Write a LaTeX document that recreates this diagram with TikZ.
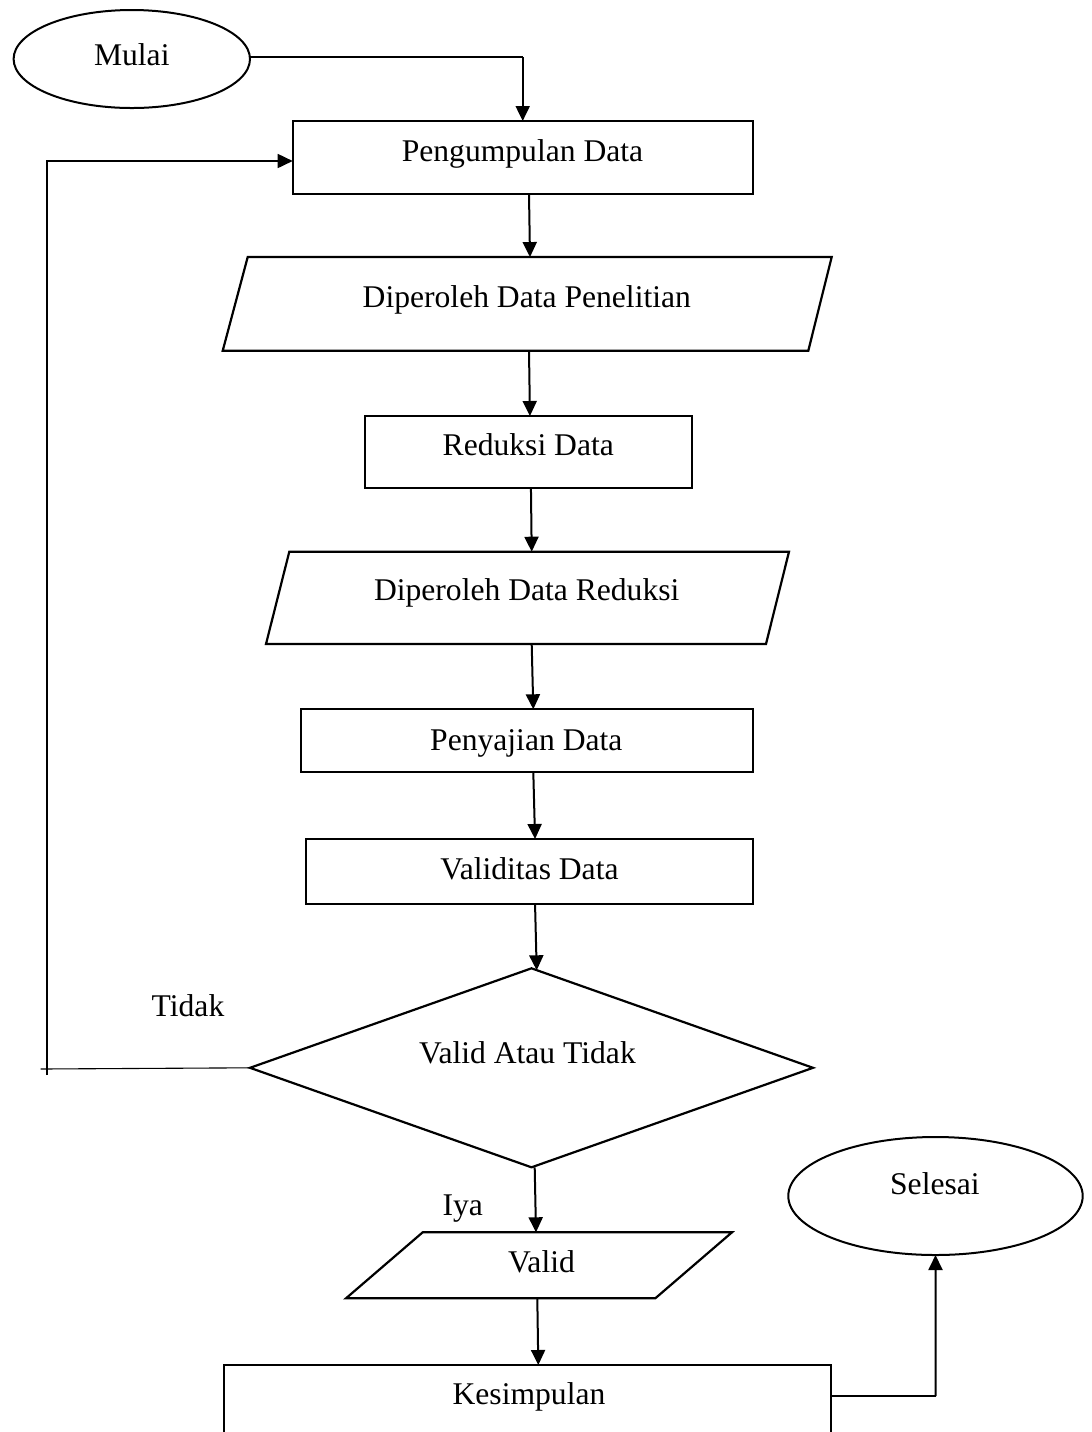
\documentclass[tikz,border=0pt]{standalone}
\usepackage{fontspec}
\setmainfont{Liberation Serif}
\usetikzlibrary{arrows.meta,shapes.geometric}
\begin{document}
\begin{tikzpicture}[x=0.5pt,y=-0.5pt,
  box/.style={draw,line width=1.1pt,rectangle,inner sep=0pt,outer sep=0pt},
  ghost/.style={rectangle,inner sep=0pt,outer sep=0pt},
  oval/.style={draw,line width=1pt,ellipse,inner sep=0pt,outer sep=0pt},
  shapeline/.style={line width=1.1pt,line join=miter},
  txt/.style={inner sep=0pt,anchor=base,font=\fontsize{15.8}{19}\selectfont},
  arr/.style={line width=1pt,-{Triangle[length=7.5pt,width=7pt]}},
  thinline/.style={line width=0.55pt},
]
\useasboundingbox (0,0) rectangle (1092,1432);
\clip (0,0) rectangle (1092,1432);

% shapes
\node[oval,minimum width=118.2pt,minimum height=49pt] (mulai) at (131.8,59) {};
\node[box,minimum width=230pt,minimum height=36.5pt] (n1) at (522.7,157.5) {};
\node[ghost,minimum width=304.5pt,minimum height=46.85pt] (p1) at (527.2,303.9) {};
\draw[shapeline] ([xshift=12.5pt]p1.north west) -- (p1.north east) -- ([xshift=-11.7pt]p1.south east) -- (p1.south west) -- cycle;
\node[box,minimum width=163.35pt,minimum height=36.15pt] (n2) at (528.35,452.15) {};
\node[ghost,minimum width=261.5pt,minimum height=46.15pt] (p2) at (527.5,597.85) {};
\draw[shapeline] ([xshift=11.65pt]p2.north west) -- (p2.north east) -- ([xshift=-11.5pt]p2.south east) -- (p2.south west) -- cycle;
\node[box,minimum width=226.3pt,minimum height=31.35pt] (n3) at (527,740.65) {};
\node[box,minimum width=223.65pt,minimum height=32.65pt] (n4) at (529.65,871.65) {};
\node[ghost,minimum width=281.5pt,minimum height=99.5pt] (dia) at (531.5,1067.8) {};
\draw[shapeline] (dia.north) -- (dia.east) -- (dia.south) -- (dia.west) -- cycle;
\node[ghost,minimum width=193pt,minimum height=33pt] (valid) at (539,1265.3) {};
\draw[shapeline] ([xshift=38.35pt]valid.north west) -- (valid.north east) -- ([xshift=-38.35pt]valid.south east) -- (valid.south west) -- cycle;
\node[box,minimum width=303.5pt,minimum height=47.5pt] (kes) at (527.5,1412.5) {};
\node[oval,minimum width=147.2pt,minimum height=59pt] (selesai) at (935.5,1196) {};

% texts
\node[txt] (tmulai) at (131.8,65) {Mulai};
\node[txt] (tn1) at (522.5,161.7) {Pengumpulan Data};
\node[txt] (tp1) at (526.8,307) {Diperoleh Data Penelitian};
\node[txt] (tn2) at (528.3,455) {Reduksi Data};
\node[txt] (tp2) at (526.7,600) {Diperoleh Data Reduksi};
\node[txt] (tn3) at (526.3,750) {Penyajian Data};
\node[txt] (tn4) at (529.5,879) {Validitas Data};
\node[txt] (tdia) at (527.5,1063) {Valid Atau Tidak};
\node[txt] (tvalid) at (541.5,1272.7) {Valid};
\node[txt] (tkes) at (529,1404) {Kesimpulan};
\node[txt] (tsel) at (934.9,1194) {Selesai};
\node[txt] (ttidak) at (188,1016.7) {Tidak};
\node[txt] (tiya) at (462.7,1215) {Iya};

% connectors
\coordinate (c1) at (522.7,57);
\draw[thinline] ([yshift=1pt]mulai.east) -- (c1);
\draw[arr] (c1) -- (n1.north);
\draw[arr] ([xshift=3.15pt]n1.south) -- ([xshift=1.4pt]p1.north);
\draw[arr] ([xshift=0.9pt]p1.south) -- ([xshift=0.8pt]n2.north);
\draw[arr] ([xshift=1.3pt]n2.south) -- ([xshift=2.1pt]p2.north);
\draw[arr] ([xshift=2.1pt]p2.south) -- ([xshift=3.15pt]n3.north);
\draw[arr] ([xshift=3.15pt]n3.south) -- ([xshift=2.7pt]n4.north);
\draw[arr] ([xshift=2.7pt]n4.south) -- ([xshift=2.6pt,yshift=-1pt]dia.north);
\draw[arr] ([xshift=1.6pt]dia.south) -- ([xshift=-1.5pt]valid.north);
\draw[arr] ([xshift=-0.85pt]valid.south) -- ([xshift=5.4pt]kes.north);
\coordinate (c3) at (935.6,1396);
\draw[line width=0.8pt] ([yshift=8.25pt]kes.east) -- (c3);
\draw[arr] (c3) -- (selesai.south);
% loop back
\coordinate (lb) at (40.7,1069);
\draw[thinline] (dia.west) -- (lb);
\coordinate (lv) at (46.7,1075);
\coordinate (lt) at (46.7,161);
\draw[arr,line width=0.85pt] (lv) -- (lt) -- (n1.west |- lt);
\end{tikzpicture}
\end{document}
